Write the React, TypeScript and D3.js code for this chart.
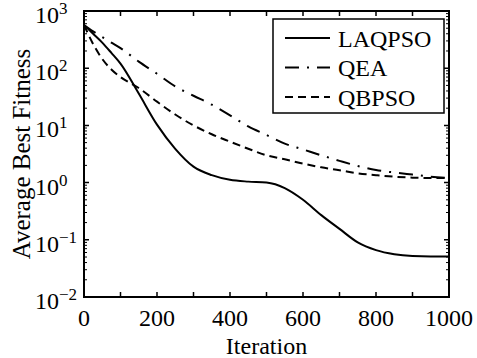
import React from 'react';
import * as d3 from 'd3';

const iterations = [0, 25, 50, 75, 100, 150, 200, 250, 300, 350, 400, 450, 500, 550, 600, 650, 700, 750, 800, 850, 900, 950, 1000];
const laqpso = [570, 400, 280, 185, 120, 36, 10.3, 3.9, 1.9, 1.35, 1.12, 1.04, 1.0, 0.8, 0.5, 0.27, 0.155, 0.09, 0.066, 0.056, 0.052, 0.051, 0.051];
const qea = [570, 440, 350, 280, 225, 130, 80, 48, 33, 23, 15, 9.6, 6.8, 4.8, 3.8, 3.0, 2.4, 1.95, 1.66, 1.5, 1.38, 1.27, 1.2];
const qbpso = [570, 265, 145, 95, 70, 45, 26, 15.5, 10, 7, 5.2, 3.9, 3.0, 2.55, 2.15, 1.85, 1.65, 1.45, 1.35, 1.27, 1.22, 1.2, 1.2];

const seriesNames = ['LAQPSO', 'QEA', 'QBPSO'];
const seriesDash = ['none', '14,8,2,8', '8,5'];
const xTickLabels = [0, 200, 400, 600, 800, 1000];
const xTickMarks = [0, 100, 200, 300, 400, 500, 600, 700, 800, 900, 1000];
const yExponents = [-2, -1, 0, 1, 2, 3];

export default function App() {
  const W = 477, H = 358;
  const L = 84, R = 449, T = 11, B = 297;
  const x = d3.scaleLinear().domain([0, 1000]).range([L, R]);
  const y = d3.scaleLog().domain([1e-2, 1e3]).range([B, T]);
  const line = d3.line<[number, number]>()
    .x(d => x(d[0]))
    .y(d => y(d[1]))
    .curve(d3.curveMonotoneX);
  const data = [laqpso, qea, qbpso];

  const minor: number[] = [];
  for (let e = -2; e < 3; e++) for (let k = 2; k <= 9; k++) minor.push(k * Math.pow(10, e));

  const lx0 = 273, ly0 = 19, lw = 171, lh = 94;
  const rowY = [38, 67.5, 97];

  return (
    <svg width={W} height={H} style={{ position: 'fixed', left: 0, top: 0, background: '#fff', fontFamily: 'Liberation Serif' }}>
      <style>{`text, tspan { font-family: 'Liberation Serif', 'Times New Roman', serif; }`}</style>
      <rect x={0} y={0} width={W} height={H} fill="#fff" />
      {data.map((vals, i) => (
        <path key={'s' + i}
          d={line(iterations.map((it, j) => [it, vals[j]] as [number, number])) || ''}
          fill="none" stroke="#000" strokeWidth={2}
          strokeDasharray={seriesDash[i] === 'none' ? undefined : seriesDash[i]} />
      ))}
      {xTickMarks.map(v => (
        <path key={'xt' + v} d={`M${x(v)},${B}V${B - 5}M${x(v)},${T}V${T + 5}`} stroke="#000" strokeWidth={1.5} />
      ))}
      {yExponents.map(e => (
        <path key={'yt' + e} d={`M${L},${y(Math.pow(10, e))}H${L + 5}M${R},${y(Math.pow(10, e))}H${R - 5}`} stroke="#000" strokeWidth={1.5} />
      ))}
      {minor.map((v, i) => (
        <path key={'ym' + i} d={`M${L},${y(v)}H${L + 3}M${R},${y(v)}H${R - 3}`} stroke="#000" strokeWidth={1} />
      ))}
      <rect x={L} y={T} width={R - L} height={B - T} fill="none" stroke="#000" strokeWidth={2} />
      {xTickLabels.map(v => (
        <text key={'xl' + v} x={x(v)} y={326} textAnchor="middle" fontFamily="Liberation Serif" fontSize={24} fill="#000">{String(v)}</text>
      ))}
      {yExponents.map(e => (
        <text key={'yl' + e} x={35} y={y(Math.pow(10, e)) + 12} fontFamily="Liberation Serif" fontSize={24} fill="#000">10<tspan fontSize={17} dy={-9}>{e < 0 ? '\u2212' + Math.abs(e) : String(e)}</tspan></text>
      ))}
      <text x={(L + R) / 2} y={354} textAnchor="middle" fontFamily="Liberation Serif" fontSize={24} fill="#000">Iteration</text>
      <text x={30} y={(T + B) / 2} transform={`rotate(-90,30,${(T + B) / 2})`} textAnchor="middle" fontFamily="Liberation Serif" fontSize={25} fill="#000">Average Best Fitness</text>
      <rect x={lx0} y={ly0} width={lw} height={lh} fill="#fff" stroke="#000" strokeWidth={1.5} />
      {seriesNames.map((name, i) => (
        <path key={'ll' + i} d={`M285,${rowY[i]}H330`} stroke="#000" strokeWidth={2}
          strokeDasharray={seriesDash[i] === 'none' ? undefined : seriesDash[i]} />
      ))}
      {seriesNames.map((name, i) => (
        <text key={'lt' + i} x={338} y={rowY[i] + 8.5} fontFamily="Liberation Serif" fontSize={24} fill="#000">{name}</text>
      ))}
    </svg>
  );
}
